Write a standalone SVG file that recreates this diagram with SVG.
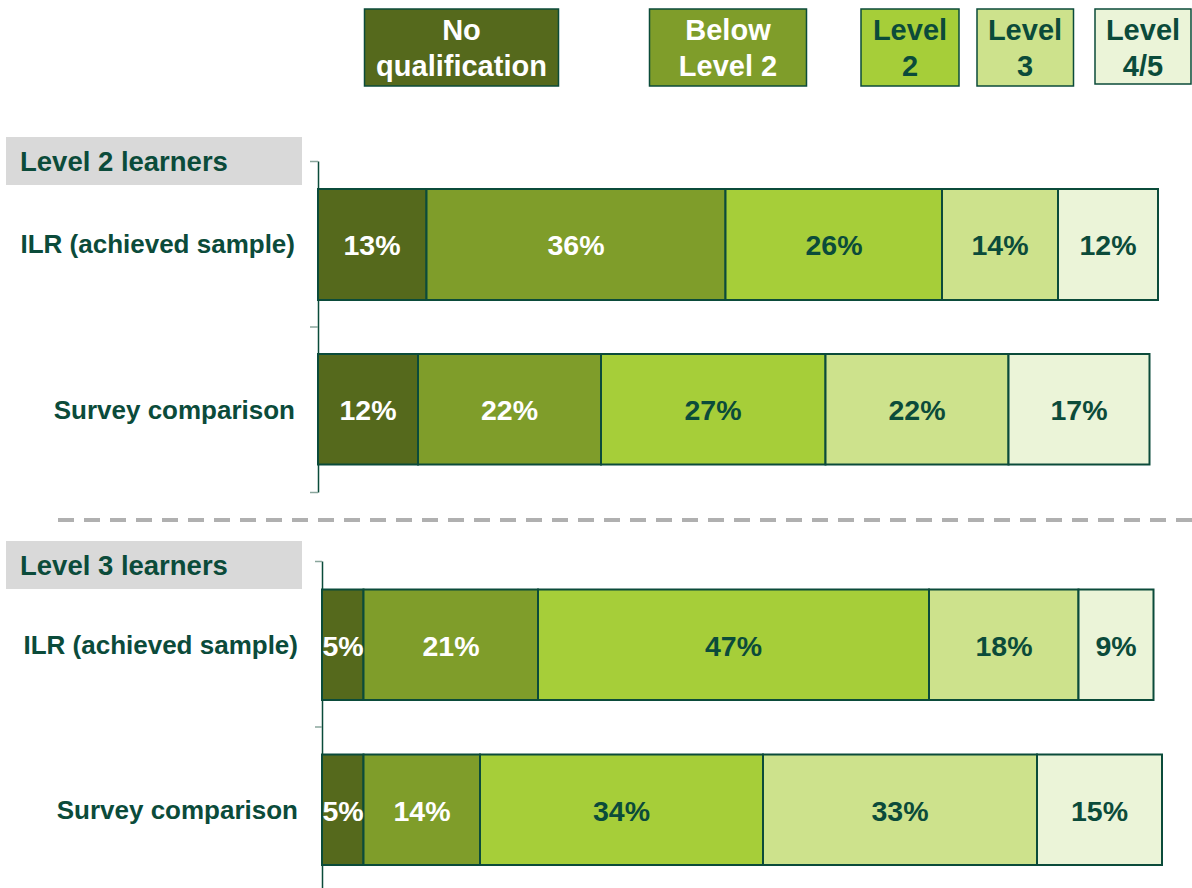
<svg xmlns="http://www.w3.org/2000/svg" width="1192" height="888" viewBox="0 0 1192 888">
<style>
text{font-family:"Liberation Sans",Arial,sans-serif;font-weight:bold}
.c1{fill:#55691c}.c2{fill:#7f9d2a}.c3{fill:#a6ce39}.c4{fill:#cde28c}.c5{fill:#ebf4d8}
.seg{stroke:#0b4b3a;stroke-width:2}
.leg{stroke:#0b4b3a;stroke-width:1.5}
.lt{font-size:29px;text-anchor:middle}
.bt{font-size:28.5px;text-anchor:middle}
.w{fill:#ffffff}.g{fill:#0b4b3a}
.row{font-size:26px;text-anchor:end;fill:#0b4b3a}
.hdr{font-size:27.5px;fill:#0b4b3a}
.axis{stroke:#0b4b3a;stroke-width:1.5}
.tick{stroke:#8aa69c;stroke-width:1.5}
</style>
<rect width="1192" height="888" fill="#ffffff"/>
<g id="legend">
<g id="leg-noqual"><rect class="c1 leg" x="364.5" y="9" width="194" height="77"/><text class="lt w" x="461.5" y="40">No</text><text class="lt w" x="461.5" y="76">qualification</text></g>
<g id="leg-below2"><rect class="c2 leg" x="649.5" y="9" width="157" height="77"/><text class="lt w" x="728" y="40">Below</text><text class="lt w" x="728" y="76">Level 2</text></g>
<g id="leg-l2"><rect class="c3 leg" x="861" y="9" width="98" height="77"/><text class="lt g" x="910" y="40">Level</text><text class="lt g" x="910" y="76">2</text></g>
<g id="leg-l3"><rect class="c4 leg" x="977" y="9" width="96.5" height="77"/><text class="lt g" x="1025" y="40">Level</text><text class="lt g" x="1025" y="76">3</text></g>
<g id="leg-l45"><rect class="c5 leg" x="1095" y="9" width="96" height="75"/><text class="lt g" x="1143" y="40">Level</text><text class="lt g" x="1143" y="76">4/5</text></g>
</g>
<g id="connectors">
<line class="axis" x1="318.5" y1="161.5" x2="318.5" y2="492.5"/>
<line class="tick" x1="310" y1="161.5" x2="318" y2="161.5"/>
<line class="tick" x1="310" y1="327" x2="318" y2="327"/>
<line class="tick" x1="310" y1="492.5" x2="318" y2="492.5"/>
<line class="axis" x1="322.5" y1="561.5" x2="322.5" y2="888"/>
<line class="tick" x1="315" y1="561.5" x2="322" y2="561.5"/>
<line class="tick" x1="315" y1="727" x2="322" y2="727"/>
<line x1="58" y1="520" x2="1192" y2="520" stroke="#b0b0b0" stroke-width="4" stroke-dasharray="16 10"/>
</g>
<g id="section-level2">
<rect x="6" y="137" width="296" height="48" fill="#d9d9d9"/>
<text class="hdr" x="20" y="171">Level 2 learners</text>
</g>
<g id="l2-ilr">
<text class="row" x="295" y="253">ILR (achieved sample)</text>
<rect class="c1 seg" x="318" y="189" width="108.5" height="111"/>
<rect class="c2 seg" x="426.5" y="189" width="299" height="111"/>
<rect class="c3 seg" x="725.5" y="189" width="216.5" height="111"/>
<rect class="c4 seg" x="942" y="189" width="116" height="111"/>
<rect class="c5 seg" x="1058" y="189" width="100" height="111"/>
<text class="bt w" x="372" y="255">13%</text>
<text class="bt w" x="576" y="255">36%</text>
<text class="bt g" x="834" y="255">26%</text>
<text class="bt g" x="1000" y="255">14%</text>
<text class="bt g" x="1108" y="255">12%</text>
</g>
<g id="l2-survey">
<text class="row" x="295" y="419">Survey comparison</text>
<rect class="c1 seg" x="318" y="354" width="100" height="110.5"/>
<rect class="c2 seg" x="418" y="354" width="183" height="110.5"/>
<rect class="c3 seg" x="601" y="354" width="224.5" height="110.5"/>
<rect class="c4 seg" x="825.5" y="354" width="183" height="110.5"/>
<rect class="c5 seg" x="1008.5" y="354" width="141" height="110.5"/>
<text class="bt w" x="368" y="420">12%</text>
<text class="bt w" x="509.5" y="420">22%</text>
<text class="bt g" x="713" y="420">27%</text>
<text class="bt g" x="917" y="420">22%</text>
<text class="bt g" x="1079" y="420">17%</text>
</g>
<g id="section-level3">
<rect x="6" y="541" width="296" height="48" fill="#d9d9d9"/>
<text class="hdr" x="20" y="575">Level 3 learners</text>
</g>
<g id="l3-ilr">
<text class="row" x="298" y="654">ILR (achieved sample)</text>
<rect class="c1 seg" x="322" y="589.5" width="41.5" height="110.5"/>
<rect class="c2 seg" x="363.5" y="589.5" width="174.5" height="110.5"/>
<rect class="c3 seg" x="538" y="589.5" width="391" height="110.5"/>
<rect class="c4 seg" x="929" y="589.5" width="149.5" height="110.5"/>
<rect class="c5 seg" x="1078.5" y="589.5" width="75" height="110.5"/>
<text class="bt w" x="343" y="656">5%</text>
<text class="bt w" x="451" y="656">21%</text>
<text class="bt g" x="733.5" y="656">47%</text>
<text class="bt g" x="1004" y="656">18%</text>
<text class="bt g" x="1116" y="656">9%</text>
</g>
<g id="l3-survey">
<text class="row" x="298" y="819">Survey comparison</text>
<rect class="c1 seg" x="322" y="754.5" width="41.5" height="110.5"/>
<rect class="c2 seg" x="363.5" y="754.5" width="116.5" height="110.5"/>
<rect class="c3 seg" x="480" y="754.5" width="283" height="110.5"/>
<rect class="c4 seg" x="763" y="754.5" width="274" height="110.5"/>
<rect class="c5 seg" x="1037" y="754.5" width="125" height="110.5"/>
<text class="bt w" x="343" y="821">5%</text>
<text class="bt w" x="422" y="821">14%</text>
<text class="bt g" x="621.5" y="821">34%</text>
<text class="bt g" x="900" y="821">33%</text>
<text class="bt g" x="1099.5" y="821">15%</text>
</g>
</svg>
